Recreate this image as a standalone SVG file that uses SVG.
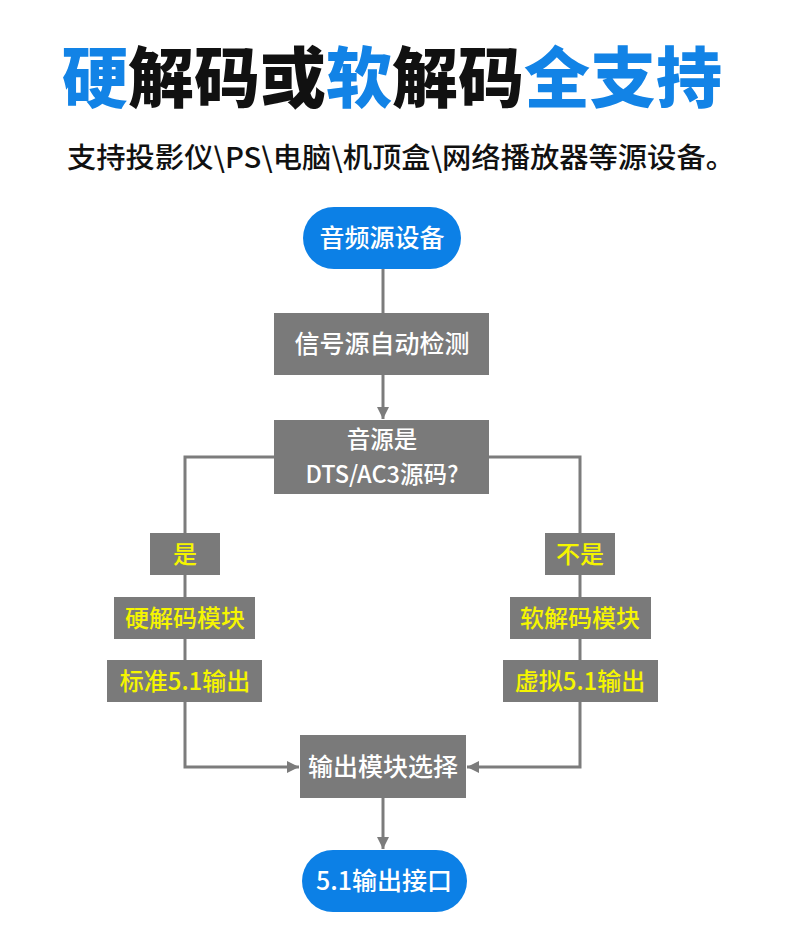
<svg xmlns="http://www.w3.org/2000/svg" width="790" height="948" viewBox="0 0 790 948">
<defs>
<style>
.t{font-family:"Noto Sans CJK SC","Noto Sans",sans-serif}
.title{font-size:66px;font-weight:900}
.blue{fill:#1283e6}
.blk{fill:#111}
.sub{font-size:28px;font-weight:500;fill:#111}
.pill{fill:#0c80e6}
.box{fill:#7a7a7a}
.wt{font-size:25px;font-weight:500;fill:#fff;text-anchor:middle}
.wt2{font-size:23.5px}
.yt{font-size:24px;font-weight:500;fill:#f5f500;text-anchor:middle}
.ln{fill:none;stroke:#7c7c7c;stroke-width:3}
</style>
<marker id="ar" viewBox="0 0 10 10" refX="10" refY="5" markerWidth="4" markerHeight="4" orient="auto" markerUnits="strokeWidth">
<path d="M0,0 L10,5 L0,10 z" fill="#7c7c7c"/>
</marker>
</defs>
<rect width="790" height="948" fill="#fff"/>
<text class="t title" x="392" y="102" text-anchor="middle" textLength="660" lengthAdjust="spacingAndGlyphs"><tspan class="blue">硬</tspan><tspan class="blk">解码或</tspan><tspan class="blue">软</tspan><tspan class="blk">解码</tspan><tspan class="blue">全支持</tspan></text>
<text class="t sub" x="401" y="168" text-anchor="middle" textLength="668" lengthAdjust="spacingAndGlyphs">支持投影仪\PS\电脑\机顶盒\网络播放器等源设备。</text>
<g id="connectors">
<line class="ln" x1="383" y1="268" x2="383" y2="314"/>
<line class="ln" x1="383" y1="375" x2="383" y2="419" marker-end="url(#ar)"/>
<polyline class="ln" points="275,457 185,457 185,534"/>
<polyline class="ln" points="489,457 580,457 580,534"/>
<line class="ln" x1="185" y1="575" x2="185" y2="598"/>
<line class="ln" x1="185" y1="639" x2="185" y2="661"/>
<polyline class="ln" points="185,702 185,767 299,767" marker-end="url(#ar)"/>
<line class="ln" x1="580" y1="575" x2="580" y2="598"/>
<line class="ln" x1="580" y1="639" x2="580" y2="661"/>
<polyline class="ln" points="580,702 580,767 467,767" marker-end="url(#ar)"/>
<line class="ln" x1="383" y1="798" x2="383" y2="849" marker-end="url(#ar)"/>
</g>
<g id="n-source">
<rect class="pill" x="303" y="207" width="158" height="62" rx="31"/>
<text class="t wt" x="382" y="247">音频源设备</text>
</g>
<g id="n-detect">
<rect class="box" x="274" y="313" width="215" height="62"/>
<text class="t wt" x="382" y="353">信号源自动检测</text>
</g>
<g id="n-decide">
<rect class="box" x="274" y="420" width="215" height="74"/>
<text class="t wt wt2" x="382" y="448">音源是</text>
<text class="t wt wt2" x="382" y="483">DTS/AC3源码?</text>
</g>
<g id="n-yes">
<rect class="box" x="150" y="533" width="70" height="42"/>
<text class="t yt" x="185" y="563">是</text>
</g>
<g id="n-hard">
<rect class="box" x="114" y="597" width="141" height="42"/>
<text class="t yt" x="185" y="627">硬解码模块</text>
</g>
<g id="n-std">
<rect class="box" x="107" y="660" width="155" height="42"/>
<text class="t yt" x="185" y="690">标准5.1输出</text>
</g>
<g id="n-no">
<rect class="box" x="545" y="533" width="70" height="42"/>
<text class="t yt" x="580" y="563">不是</text>
</g>
<g id="n-soft">
<rect class="box" x="510" y="597" width="141" height="42"/>
<text class="t yt" x="580" y="627">软解码模块</text>
</g>
<g id="n-virtual">
<rect class="box" x="503" y="660" width="155" height="42"/>
<text class="t yt" x="580" y="690">虚拟5.1输出</text>
</g>
<g id="n-select">
<rect class="box" x="300" y="735" width="166" height="63"/>
<text class="t wt" x="383" y="776">输出模块选择</text>
</g>
<g id="n-out">
<rect class="pill" x="302" y="850" width="165" height="62" rx="31"/>
<text class="t wt" x="384" y="890">5.1输出接口</text>
</g>
</svg>
